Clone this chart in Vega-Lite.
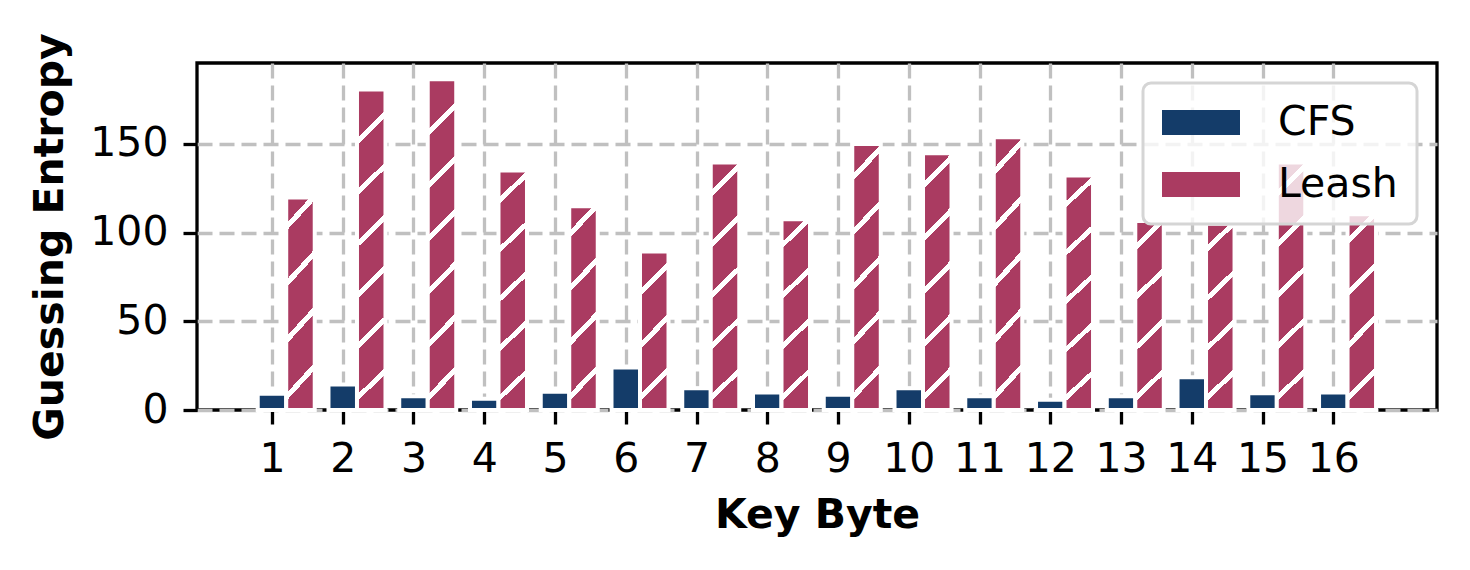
{
  "$schema": "https://vega.github.io/schema/vega-lite/v6.json",
  "width": 1240,
  "height": 347,
  "autosize": {"type": "none"},
  "padding": {"left": 197, "top": 63, "right": 33, "bottom": 160},
  "background": "white",
  "config": {
    "font": "DejaVu Sans",
    "view": {"stroke": "black", "strokeWidth": 3.3},
    "axis": {
      "labelFont": "DejaVu Sans", "labelFontSize": 41, "labelColor": "black",
      "titleFont": "DejaVu Sans", "titleFontSize": 41, "titleFontWeight": "bold", "titleColor": "black",
      "tickColor": "black", "tickSize": 14, "tickWidth": 3.3,
      "domain": false, "grid": true, "gridColor": "#c0c0c0", "gridDash": [15, 7], "gridWidth": 3.3, "gridOpacity": 1,
      "labelFlush": false, "labelOverlap": false, "labelPadding": 15
    },
    "legend": {"strokeWidth": 3}
  },
  "data": {
    "values": [
      {"byte": 1, "method": "CFS", "value": 9.2}, {"byte": 1, "method": "Leash", "value": 119.7},
      {"byte": 2, "method": "CFS", "value": 14.3}, {"byte": 2, "method": "Leash", "value": 180.6},
      {"byte": 3, "method": "CFS", "value": 7.7}, {"byte": 3, "method": "Leash", "value": 186.3},
      {"byte": 4, "method": "CFS", "value": 6.4}, {"byte": 4, "method": "Leash", "value": 134.9},
      {"byte": 5, "method": "CFS", "value": 10.3}, {"byte": 5, "method": "Leash", "value": 114.8},
      {"byte": 6, "method": "CFS", "value": 23.9}, {"byte": 6, "method": "Leash", "value": 89.3},
      {"byte": 7, "method": "CFS", "value": 12.2}, {"byte": 7, "method": "Leash", "value": 139.5},
      {"byte": 8, "method": "CFS", "value": 9.8}, {"byte": 8, "method": "Leash", "value": 107.5},
      {"byte": 9, "method": "CFS", "value": 8.6}, {"byte": 9, "method": "Leash", "value": 149.8},
      {"byte": 10, "method": "CFS", "value": 12.2}, {"byte": 10, "method": "Leash", "value": 144.7},
      {"byte": 11, "method": "CFS", "value": 7.7}, {"byte": 11, "method": "Leash", "value": 153.6},
      {"byte": 12, "method": "CFS", "value": 5.8}, {"byte": 12, "method": "Leash", "value": 132.1},
      {"byte": 13, "method": "CFS", "value": 7.7}, {"byte": 13, "method": "Leash", "value": 106.5},
      {"byte": 14, "method": "CFS", "value": 18.4}, {"byte": 14, "method": "Leash", "value": 105.0},
      {"byte": 15, "method": "CFS", "value": 9.4}, {"byte": 15, "method": "Leash", "value": 139.5},
      {"byte": 16, "method": "CFS", "value": 9.9}, {"byte": 16, "method": "Leash", "value": 110.3}
    ]
  },
  "encoding": {
    "x": {
      "field": "byte", "type": "quantitative", "title": "Key Byte",
      "scale": {"domain": [0.011, 17.395], "nice": false, "zero": false},
      "axis": {"values": [1, 2, 3, 4, 5, 6, 7, 8, 9, 10, 11, 12, 13, 14, 15, 16], "format": "d", "titlePadding": 16}
    },
    "y": {
      "field": "value", "type": "quantitative", "title": "Guessing Entropy",
      "scale": {"domain": [0, 195.5], "nice": false},
      "axis": {"values": [0, 50, 100, 150], "titlePadding": 18}
    }
  },
  "layer": [
    {
      "transform": [{"filter": "datum.method === 'CFS'"}],
      "mark": {"type": "bar", "width": 28.5, "stroke": "white", "strokeWidth": 4},
      "encoding": {
        "color": {
          "field": "method", "type": "nominal",
          "scale": {"domain": ["CFS", "Leash"], "range": ["#143c69", "#aa3b61"]},
          "legend": {
            "title": null, "orient": "top-right", "offset": 20, "padding": 19,
            "symbolType": "M-1,-0.61H2.805V0.61H-1Z", "symbolSize": 1681, "symbolStrokeWidth": 0,
            "labelFont": "DejaVu Sans", "labelFontSize": 41, "labelColor": "black", "labelOffset": 75,
            "rowPadding": 20, "fillColor": "rgba(255,255,255,0.8)", "strokeColor": "#d5d5d5", "cornerRadius": 8,
            "symbolOpacity": 1
          }
        }
      }
    },
    {
      "transform": [{"filter": "datum.method === 'Leash'"}],
      "mark": {"type": "bar", "width": 28.5, "xOffset": 28.5, "stroke": "white", "strokeWidth": 4},
      "encoding": {
        "fill": {
          "condition": [
            {"test": "datum.value < 100", "value": {"gradient": "linear", "x1": 0, "y1": 0, "x2": 0.1815, "y2": 1, "stops": [
              {"offset": 0, "color": "#aa3b61"}, {"offset": 0.2328, "color": "#aa3b61"}, {"offset": 0.2328, "color": "#ffffff"},
              {"offset": 0.2760, "color": "#ffffff"}, {"offset": 0.2760, "color": "#aa3b61"}, {"offset": 0.5535, "color": "#aa3b61"},
              {"offset": 0.5535, "color": "#ffffff"}, {"offset": 0.5967, "color": "#ffffff"}, {"offset": 0.5967, "color": "#aa3b61"},
              {"offset": 0.8741, "color": "#aa3b61"}, {"offset": 0.8741, "color": "#ffffff"}, {"offset": 0.9173, "color": "#ffffff"},
              {"offset": 0.9173, "color": "#aa3b61"}, {"offset": 1, "color": "#aa3b61"}]}},
            {"test": "datum.value < 125", "value": {"gradient": "linear", "x1": 0, "y1": 0, "x2": 0.1462, "y2": 1, "stops": [
              {"offset": 0, "color": "#aa3b61"}, {"offset": 0.1193, "color": "#aa3b61"}, {"offset": 0.1193, "color": "#ffffff"},
              {"offset": 0.1545, "color": "#ffffff"}, {"offset": 0.1545, "color": "#aa3b61"}, {"offset": 0.3803, "color": "#aa3b61"},
              {"offset": 0.3803, "color": "#ffffff"}, {"offset": 0.4155, "color": "#ffffff"}, {"offset": 0.4155, "color": "#aa3b61"},
              {"offset": 0.6414, "color": "#aa3b61"}, {"offset": 0.6414, "color": "#ffffff"}, {"offset": 0.6766, "color": "#ffffff"},
              {"offset": 0.6766, "color": "#aa3b61"}, {"offset": 0.9025, "color": "#aa3b61"}, {"offset": 0.9025, "color": "#ffffff"},
              {"offset": 0.9377, "color": "#ffffff"}, {"offset": 0.9377, "color": "#aa3b61"}, {"offset": 1, "color": "#aa3b61"}]}},
            {"test": "datum.value < 160", "value": {"gradient": "linear", "x1": 0, "y1": 0, "x2": 0.1131, "y2": 1, "stops": [
              {"offset": 0, "color": "#aa3b61"}, {"offset": 0.1126, "color": "#aa3b61"}, {"offset": 0.1126, "color": "#ffffff"},
              {"offset": 0.1400, "color": "#ffffff"}, {"offset": 0.1400, "color": "#aa3b61"}, {"offset": 0.3164, "color": "#aa3b61"},
              {"offset": 0.3164, "color": "#ffffff"}, {"offset": 0.3438, "color": "#ffffff"}, {"offset": 0.3438, "color": "#aa3b61"},
              {"offset": 0.5201, "color": "#aa3b61"}, {"offset": 0.5201, "color": "#ffffff"}, {"offset": 0.5475, "color": "#ffffff"},
              {"offset": 0.5475, "color": "#aa3b61"}, {"offset": 0.7239, "color": "#aa3b61"}, {"offset": 0.7239, "color": "#ffffff"},
              {"offset": 0.7513, "color": "#ffffff"}, {"offset": 0.7513, "color": "#aa3b61"}, {"offset": 0.9276, "color": "#aa3b61"},
              {"offset": 0.9276, "color": "#ffffff"}, {"offset": 0.9550, "color": "#ffffff"}, {"offset": 0.9550, "color": "#aa3b61"},
              {"offset": 1, "color": "#aa3b61"}]}}
          ],
          "value": {"gradient": "linear", "x1": 0, "y1": 0, "x2": 0.0877, "y2": 1, "stops": [
            {"offset": 0, "color": "#aa3b61"}, {"offset": 0.1518, "color": "#aa3b61"}, {"offset": 0.1518, "color": "#ffffff"},
            {"offset": 0.1732, "color": "#ffffff"}, {"offset": 0.1732, "color": "#aa3b61"}, {"offset": 0.3106, "color": "#aa3b61"},
            {"offset": 0.3106, "color": "#ffffff"}, {"offset": 0.3320, "color": "#ffffff"}, {"offset": 0.3320, "color": "#aa3b61"},
            {"offset": 0.4694, "color": "#aa3b61"}, {"offset": 0.4694, "color": "#ffffff"}, {"offset": 0.4908, "color": "#ffffff"},
            {"offset": 0.4908, "color": "#aa3b61"}, {"offset": 0.6282, "color": "#aa3b61"}, {"offset": 0.6282, "color": "#ffffff"},
            {"offset": 0.6496, "color": "#ffffff"}, {"offset": 0.6496, "color": "#aa3b61"}, {"offset": 0.7870, "color": "#aa3b61"},
            {"offset": 0.7870, "color": "#ffffff"}, {"offset": 0.8084, "color": "#ffffff"}, {"offset": 0.8084, "color": "#aa3b61"},
            {"offset": 0.9457, "color": "#aa3b61"}, {"offset": 0.9457, "color": "#ffffff"}, {"offset": 0.9671, "color": "#ffffff"},
            {"offset": 0.9671, "color": "#aa3b61"}, {"offset": 1, "color": "#aa3b61"}]}
        }
      }
    }
  ]
}
